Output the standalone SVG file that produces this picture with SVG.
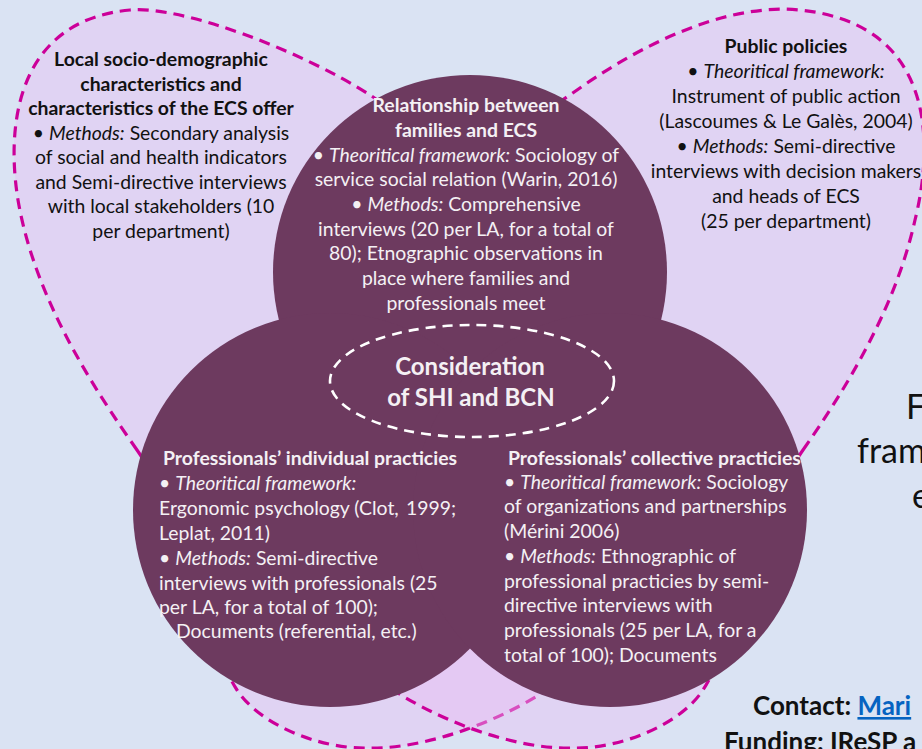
<svg xmlns="http://www.w3.org/2000/svg" width="922" height="749" viewBox="0 0 922 749">
<style>
.bg{fill:#dae3f3}
.lobe{fill:#eabcf3;fill-opacity:0.42;stroke:#cc0099;stroke-width:3.2;stroke-dasharray:11 7}
.circ{fill:#6d3a5f}
.t{font-family:Lato,"Liberation Sans",sans-serif;font-size:19.4px}
.dk{fill:#111}
.wt{fill:#f4f0f4}
.b{font-weight:bold}
.i{font-style:italic}
.mid{text-anchor:middle}
</style>
<rect class="bg" x="0" y="0" width="922" height="749"/>
<g id="lobe-local">
<path class="lobe" d="M 137,450 C 95,390 35,300 18,200 C 5,120 20,20 130,10 C 180,5 300,50 370,95 C 450,145 610,420 585,660 C 540,705 440,750 367,748 C 320,749 260,725 237,690 C 205,640 179,510 137,450 Z"/>
</g>
<g id="lobe-policies">
<path class="lobe" d="M 803,450 C 845,390 895,310 915,220 C 930,160 945,25 800,10 C 740,4 660,30 570,95 C 490,145 330,420 355,660 C 400,705 500,750 573,748 C 620,749 680,725 703,690 C 735,640 761,510 803,450 Z"/>
</g>
<g id="node-relationship"><circle class="circ" cx="470" cy="272" r="197"/></g>
<g id="node-individual"><circle class="circ" cx="330" cy="510" r="197"/></g>
<g id="node-collective"><circle class="circ" cx="610" cy="510" r="197"/></g>

<g id="text-local" class="t dk mid">
<text x="161" y="66" class="b">Local socio-demographic</text>
<text x="161" y="90.5" class="b">characteristics and</text>
<text x="161" y="115" class="b">characteristics of the ECS offer</text>
<text x="161" y="139.5">• <tspan class="i">Methods:</tspan> Secondary analysis</text>
<text x="161" y="164">of social and health indicators</text>
<text x="161" y="188.5">and Semi-directive interviews</text>
<text x="161" y="213">with local stakeholders (10</text>
<text x="161" y="238">per department)</text>
</g>

<g id="text-policies" class="t dk mid">
<text x="786" y="53" class="b">Public policies</text>
<text x="786" y="78">• <tspan class="i">Theoritical framework:</tspan></text>
<text x="786" y="103">Instrument of public action</text>
<text x="786" y="128">(Lascoumes &amp; Le Galès, 2004)</text>
<text x="786" y="153">• <tspan class="i">Methods:</tspan> Semi-directive</text>
<text x="786" y="178">interviews with decision makers</text>
<text x="786" y="203">and heads of ECS</text>
<text x="786" y="228">(25 per department)</text>
</g>

<g id="text-relationship" class="t wt mid">
<text x="466" y="112" class="b">Relationship between</text>
<text x="466" y="137" class="b">families and ECS</text>
<text x="466" y="161.5">• <tspan class="i">Theoritical framework:</tspan> Sociology of</text>
<text x="466" y="186">service social relation (Warin, 2016)</text>
<text x="466" y="211">• <tspan class="i">Methods:</tspan> Comprehensive</text>
<text x="466" y="235.5">interviews (20 per LA, for a total of</text>
<text x="466" y="260">80); Etnographic observations in</text>
<text x="466" y="285">place where families and</text>
<text x="466" y="309.5">professionals meet</text>
</g>

<g id="node-consideration">
<ellipse cx="472" cy="381" rx="142" ry="56" fill="none" stroke="#ffffff" stroke-width="2.6" stroke-dasharray="10 7"/>
<text x="470" y="375" class="t b wt mid" style="font-size:24px">Consideration</text>
<text x="471" y="406" class="t b wt mid" style="font-size:24px">of SHI and BCN</text>
</g>

<g id="text-individual" class="t wt">
<text x="163" y="465" class="b">Professionals’ individual practicies</text>
<text x="159" y="490">• <tspan class="i">Theoritical framework:</tspan></text>
<text x="159" y="515">Ergonomic psychology (Clot,</text>
<text x="456" y="515" style="text-anchor:end">1999;</text>
<text x="159" y="540">Leplat, 2011)</text>
<text x="159" y="565">• <tspan class="i">Methods:</tspan> Semi-directive</text>
<text x="159" y="590">interviews with professionals (25</text>
<text x="159" y="614">per LA, for a total of 100);</text>
<text x="176" y="638">Documents (referential, etc.)</text>
</g>

<g id="text-collective" class="t wt">
<text x="508" y="465" class="b">Professionals’ collective practicies</text>
<text x="504" y="489">• <tspan class="i">Theoritical framework:</tspan> Sociology</text>
<text x="504" y="513">of organizations and partnerships</text>
<text x="504" y="538">(Mérini 2006)</text>
<text x="504" y="563">• <tspan class="i">Methods:</tspan> Ethnographic of</text>
<text x="504" y="588">professional practicies by semi-</text>
<text x="504" y="612">directive interviews with</text>
<text x="504" y="637">professionals (25 per LA, for a</text>
<text x="504" y="662">total of 100); Documents</text>
</g>

<g id="text-side" style="font-family:Lato,'Liberation Sans',sans-serif;font-size:34px;fill:#111">
<text x="906" y="419">F</text>
<text x="857" y="463">fram</text>
<text x="912" y="508">e</text>
</g>

<g id="text-contact" style="font-family:Lato,'Liberation Sans',sans-serif;font-size:26px;font-weight:bold;fill:#111">
<text x="753" y="715">Contact: <tspan fill="#0563c1" text-decoration="underline">Mari</tspan></text>
<text x="724" y="751">Funding: IReSP a</text>
</g>
</svg>
